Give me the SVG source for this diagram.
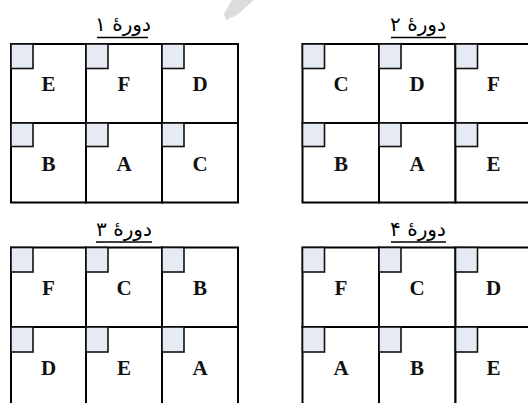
<svg xmlns="http://www.w3.org/2000/svg" width="528" height="403" viewBox="0 0 528 403">
  <style>
    .cell { fill: #ffffff; stroke: #000000; stroke-width: 2; }
    .tab { fill: #e6ebf3; stroke: #111111; stroke-width: 1.6; }
    .lbl { font-family: "Liberation Serif", "Times New Roman", serif; font-weight: bold; font-size: 21px; text-anchor: middle; fill: #111111; }
    .ttl { font-family: "DejaVu Sans", "Noto Sans", sans-serif; font-size: 20px; text-anchor: middle; fill: #000000; }
    .ul { stroke: #000000; stroke-width: 1.4; }
  </style>

  <rect width="528" height="403" fill="#ffffff"/>

  <!-- faint pencil-tip mark near the top -->
  <polygon points="232,0 254,0 237,15 226,20 224,14" fill="#dcdcdc"/>

  <!-- round titles -->
  <g id="titles">
    <text class="ttl" x="123" y="31" direction="rtl">دورۀ ۱</text>
    <line class="ul" x1="97" y1="37.5" x2="148" y2="37.5"/>
    <text class="ttl" x="418" y="31" direction="rtl">دورۀ ۲</text>
    <line class="ul" x1="391" y1="37.5" x2="446" y2="37.5"/>
    <text class="ttl" x="124" y="236" direction="rtl">دورۀ ۳</text>
    <line class="ul" x1="96" y1="242" x2="152" y2="242"/>
    <text class="ttl" x="418" y="236" direction="rtl">دورۀ ۴</text>
    <line class="ul" x1="391" y1="242" x2="446" y2="242"/>
  </g>

  <!-- round 1 -->
  <g id="r1">
    <g id="r1-E"><rect class="cell" x="11" y="44" width="75" height="79"/><rect class="tab" x="11" y="44" width="22" height="24.5"/><text class="lbl" x="48.5" y="91">E</text></g>
    <g id="r1-F"><rect class="cell" x="86" y="44" width="76" height="79"/><rect class="tab" x="86" y="44" width="22" height="24.5"/><text class="lbl" x="124" y="91">F</text></g>
    <g id="r1-D"><rect class="cell" x="162" y="44" width="76" height="79"/><rect class="tab" x="162" y="44" width="22" height="24.5"/><text class="lbl" x="200" y="91">D</text></g>
    <g id="r1-B"><rect class="cell" x="11" y="123" width="75" height="79.5"/><rect class="tab" x="11" y="123" width="22" height="23.5"/><text class="lbl" x="48.5" y="170.5">B</text></g>
    <g id="r1-A"><rect class="cell" x="86" y="123" width="76" height="79.5"/><rect class="tab" x="86" y="123" width="22" height="23.5"/><text class="lbl" x="124" y="170.5">A</text></g>
    <g id="r1-C"><rect class="cell" x="162" y="123" width="76" height="79.5"/><rect class="tab" x="162" y="123" width="22" height="23.5"/><text class="lbl" x="200" y="170.5">C</text></g>
  </g>

  <!-- round 2 -->
  <g id="r2">
    <g id="r2-C"><rect class="cell" x="302.5" y="44" width="76.5" height="79"/><rect class="tab" x="302.5" y="44" width="22" height="24.5"/><text class="lbl" x="341" y="91">C</text></g>
    <g id="r2-D"><rect class="cell" x="379" y="44" width="76.5" height="79"/><rect class="tab" x="379" y="44" width="22" height="24.5"/><text class="lbl" x="417" y="91">D</text></g>
    <g id="r2-F"><rect class="cell" x="455.5" y="44" width="76.5" height="79"/><rect class="tab" x="455.5" y="44" width="22" height="24.5"/><text class="lbl" x="493.5" y="91">F</text></g>
    <g id="r2-B"><rect class="cell" x="302.5" y="123" width="76.5" height="79.5"/><rect class="tab" x="302.5" y="123" width="22" height="23.5"/><text class="lbl" x="341" y="170.5">B</text></g>
    <g id="r2-A"><rect class="cell" x="379" y="123" width="76.5" height="79.5"/><rect class="tab" x="379" y="123" width="22" height="23.5"/><text class="lbl" x="417" y="170.5">A</text></g>
    <g id="r2-E"><rect class="cell" x="455.5" y="123" width="76.5" height="79.5"/><rect class="tab" x="455.5" y="123" width="22" height="23.5"/><text class="lbl" x="493.5" y="170.5">E</text></g>
  </g>

  <!-- round 3 -->
  <g id="r3">
    <g id="r3-F"><rect class="cell" x="11" y="247.5" width="75" height="79.5"/><rect class="tab" x="11" y="247.5" width="22" height="24.5"/><text class="lbl" x="48.5" y="295">F</text></g>
    <g id="r3-C"><rect class="cell" x="86" y="247.5" width="76" height="79.5"/><rect class="tab" x="86" y="247.5" width="22" height="24.5"/><text class="lbl" x="124" y="295">C</text></g>
    <g id="r3-B"><rect class="cell" x="162" y="247.5" width="76" height="79.5"/><rect class="tab" x="162" y="247.5" width="22" height="24.5"/><text class="lbl" x="200" y="295">B</text></g>
    <g id="r3-D"><rect class="cell" x="11" y="327" width="75" height="80"/><rect class="tab" x="11" y="327" width="22" height="25"/><text class="lbl" x="48.5" y="374.5">D</text></g>
    <g id="r3-E"><rect class="cell" x="86" y="327" width="76" height="80"/><rect class="tab" x="86" y="327" width="22" height="25"/><text class="lbl" x="124" y="374.5">E</text></g>
    <g id="r3-A"><rect class="cell" x="162" y="327" width="76" height="80"/><rect class="tab" x="162" y="327" width="22" height="25"/><text class="lbl" x="200" y="374.5">A</text></g>
  </g>

  <!-- round 4 -->
  <g id="r4">
    <g id="r4-F"><rect class="cell" x="302.5" y="247.5" width="76.5" height="79.5"/><rect class="tab" x="302.5" y="247.5" width="22" height="24.5"/><text class="lbl" x="341" y="295">F</text></g>
    <g id="r4-C"><rect class="cell" x="379" y="247.5" width="76.5" height="79.5"/><rect class="tab" x="379" y="247.5" width="22" height="24.5"/><text class="lbl" x="417" y="295">C</text></g>
    <g id="r4-D"><rect class="cell" x="455.5" y="247.5" width="76.5" height="79.5"/><rect class="tab" x="455.5" y="247.5" width="22" height="24.5"/><text class="lbl" x="493.5" y="295">D</text></g>
    <g id="r4-A"><rect class="cell" x="302.5" y="327" width="76.5" height="80"/><rect class="tab" x="302.5" y="327" width="22" height="25"/><text class="lbl" x="341" y="374.5">A</text></g>
    <g id="r4-B"><rect class="cell" x="379" y="327" width="76.5" height="80"/><rect class="tab" x="379" y="327" width="22" height="25"/><text class="lbl" x="417" y="374.5">B</text></g>
    <g id="r4-E"><rect class="cell" x="455.5" y="327" width="76.5" height="80"/><rect class="tab" x="455.5" y="327" width="22" height="25"/><text class="lbl" x="493.5" y="374.5">E</text></g>
  </g>

  <!-- no connectors in this figure -->
  <g id="connectors"/>
</svg>
